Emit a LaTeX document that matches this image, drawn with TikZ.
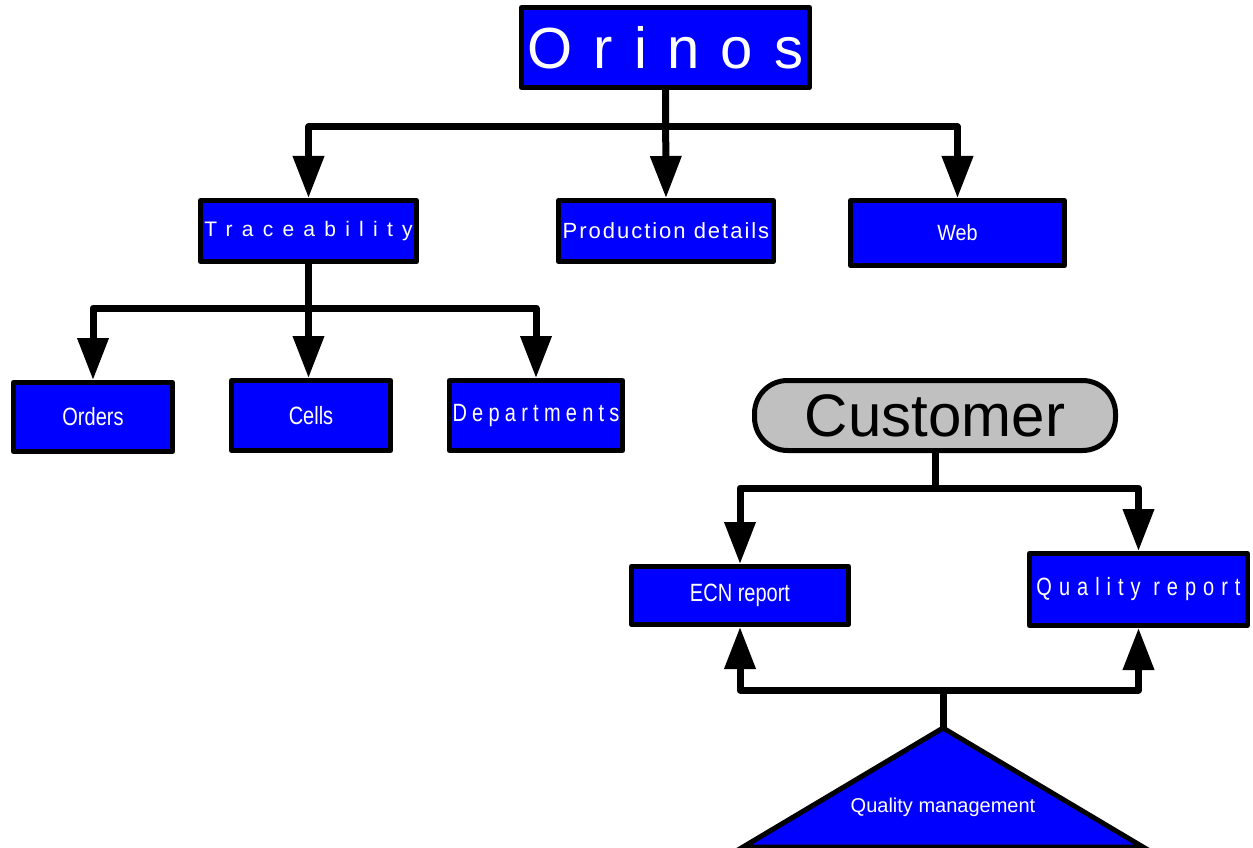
\documentclass[tikz,border=0pt]{standalone}
\usepackage{fontspec}
\setmainfont{Liberation Sans}
\usetikzlibrary{arrows.meta}
\definecolor{custgray}{RGB}{192,192,192}
\tikzset{
  box/.style={draw=black, fill=blue, line width=5pt, line join=round, text=white, inner sep=0pt},
  conn/.style={line width=7pt, line join=round, -{Triangle[length=42pt,width=30pt]}},
  bar/.style={line width=7pt, line join=round}
}
\newcommand\fBig{\fontsize{58}{58}\selectfont\addfontfeatures{LetterSpace=36}}
\newcommand\fCust{\fontsize{60}{60}\selectfont}
\newcommand\fTrace{\fontsize{21}{21}\selectfont\addfontfeatures{LetterSpace=44}}
\newcommand\fProd{\fontsize{22}{22}\selectfont\addfontfeatures{LetterSpace=9}}
\newcommand\fWeb{\fontsize{22}{22}\selectfont\addfontfeatures{FakeStretch=0.9}}
\newcommand\fCond{\fontsize{25}{25}\selectfont\addfontfeatures{FakeStretch=0.8}}
\newcommand\fDep{\fontsize{25}{25}\selectfont\addfontfeatures{FakeStretch=0.8,LetterSpace=21}}
\newcommand\fQrep{\fontsize{25}{25}\selectfont\addfontfeatures{FakeStretch=0.8,LetterSpace=28}}
\newcommand\fQm{\fontsize{20}{20}\selectfont}
\begin{document}
\begin{tikzpicture}[x=1pt,y=-1pt]
\useasboundingbox (0,0) rectangle (1253,848);
% boxes
\node[box, minimum width=288pt, minimum height=80pt, font=\fBig] (orinos) at (665.5,47.5) {Orinos};
\node[box, minimum width=216pt, minimum height=61pt, font=\fTrace] (trace) at (308.5,231) {Traceability};
\node[box, minimum width=215pt, minimum height=61pt, font=\fProd] (prod) at (666,231) {Production details};
\node[box, minimum width=214pt, minimum height=65pt, font=\fWeb] (web) at (957.5,233) {Web};
\node[box, minimum width=159pt, minimum height=69pt, font=\fCond] (orders) at (93,417) {Orders};
\node[box, minimum width=159pt, minimum height=70pt, font=\fCond] (cells) at (311,415.5) {Cells};
\node[box, minimum width=173pt, minimum height=70pt, font=\fDep] (dept) at (536,415.5) {Departments};
\node[draw=black, fill=custgray, line width=5pt, rounded corners=33pt, inner sep=0pt,
      minimum width=361pt, minimum height=70pt, font=\fCust] (cust) at (935,415.5) {Customer};
\node[box, minimum width=217pt, minimum height=58pt, font=\fCond] (ecn) at (740,595.5) {ECN report};
\node[box, minimum width=218pt, minimum height=72pt, font=\fQrep] (qrep) at (1138.5,589.5) {Quality report};
% triangle
\draw[line width=5pt, fill=blue, line join=miter] (943,728) -- (743,847) -- (1143,847) -- cycle;
\coordinate (qmtop) at (943,728);
\node[text=white, font=\fQm, inner sep=0pt] (qm) at (943,807) {Quality management};
% connectors
\draw[conn] (orinos.south) -- ++(0,37) -| (trace.north);
\draw[conn] (orinos.south) -- ++(0,37) -| (web.north);
\draw[conn] (orinos.south) -- (prod.north);
\draw[conn] (trace.south) -- ++(0,44) -| (orders.north);
\draw[conn] (trace.south) -- ++(0,44) -| (dept.north);
\draw[conn] (trace.south) -- (trace.south |- cells.north);
\draw[conn] (cust.south) -- ++(0,35) -| (ecn.north);
\draw[conn] (cust.south) -- ++(0,35) -| (qrep.north);
\draw[conn] (qmtop) -- ++(0,-38) -| (ecn.south);
\draw[conn] (qmtop) -- ++(0,-38) -| (qrep.south);
\end{tikzpicture}
\end{document}
